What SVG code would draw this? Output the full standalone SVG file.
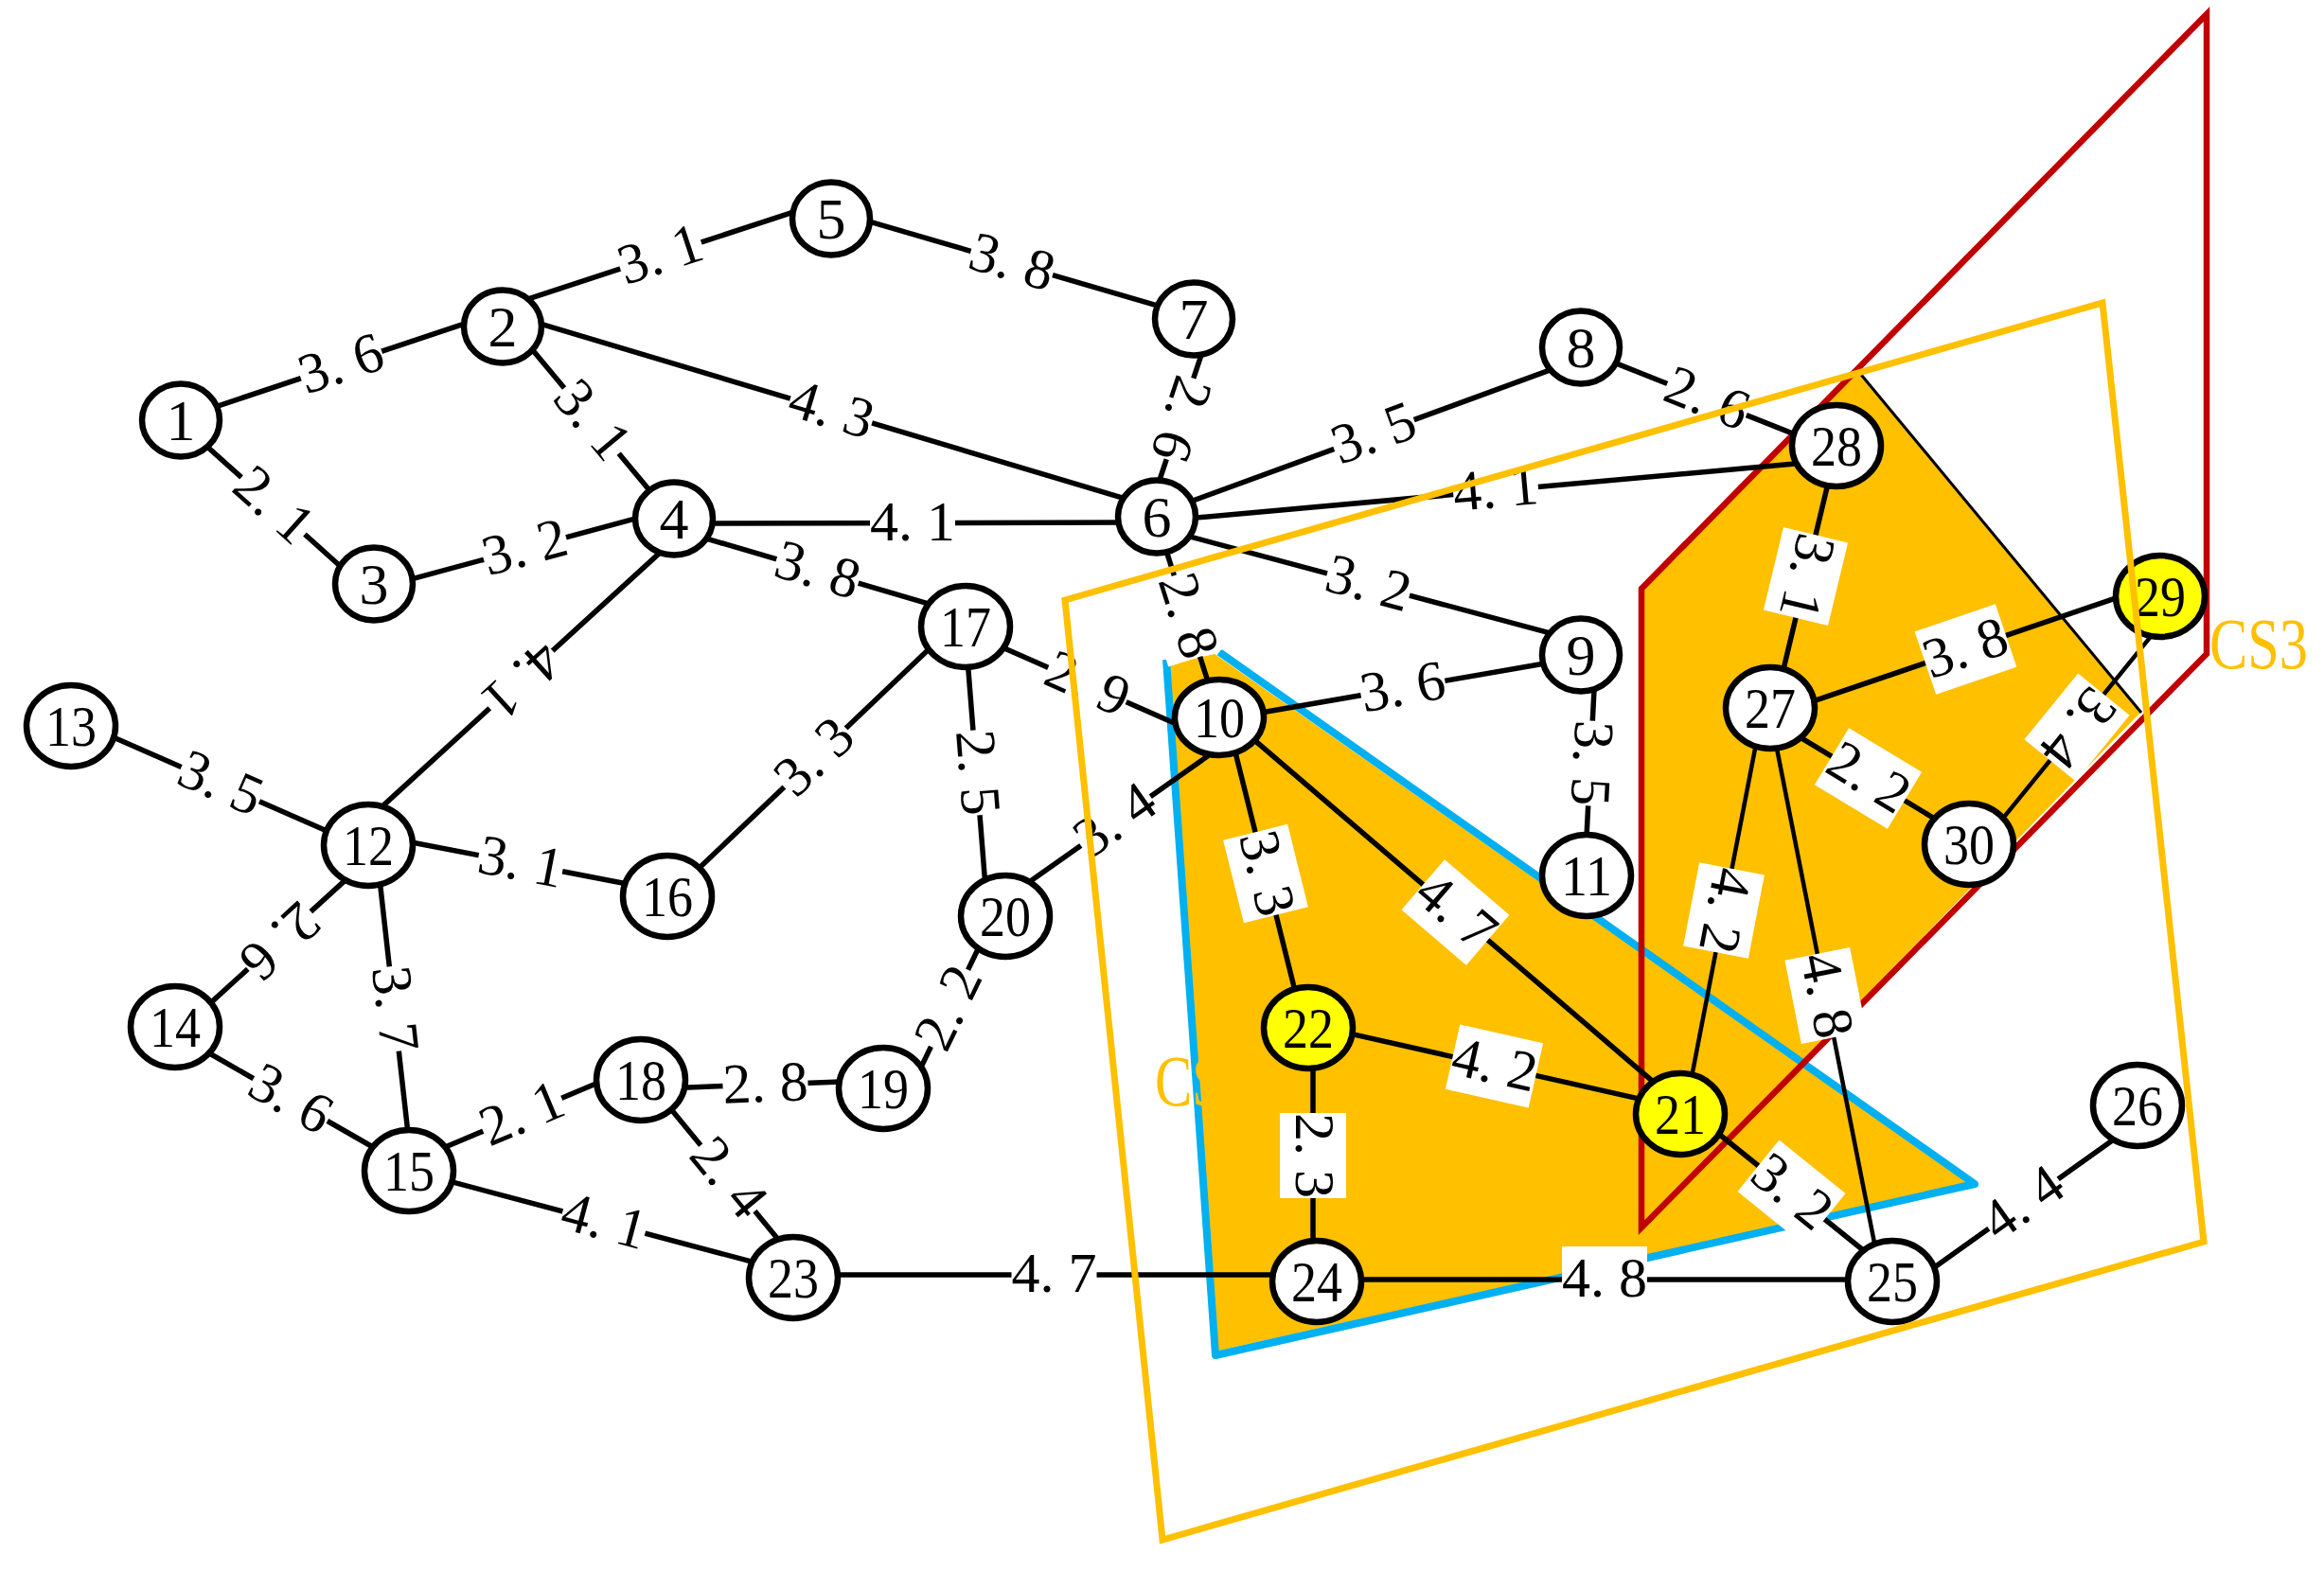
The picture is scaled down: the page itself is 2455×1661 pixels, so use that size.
<svg xmlns="http://www.w3.org/2000/svg" width="2455" height="1661" viewBox="0 0 2455 1661">
<style>
.fill{fill:#FFC000;stroke:none}
.e line{stroke:#000;stroke-width:5.5}
.e line.t{stroke-width:4.5}
.lb rect{fill:#fff}
.lb text{font-family:"Liberation Serif",serif;font-size:60px;text-anchor:middle;fill:#000}
.n ellipse{fill:#fff;stroke:#000;stroke-width:6.5}
.n.y ellipse{fill:#FFFF00}
.n text{font-family:"Liberation Serif",serif;font-size:62px;text-anchor:middle;fill:#000}
.cs{font-family:"Liberation Serif",serif;font-size:76px;fill:#FFC000}
</style>
<rect width="2455" height="1661" fill="#fff"/>
<g id="regions">
<polygon class="fill" points="1236,702 1283,1428 2080,1250 1283,691"/>
<polygon class="fill" points="1734,622 1962,390 2262,752 1734,1297"/>
<line x1="1962" y1="391" x2="2262" y2="753" stroke="#000" stroke-width="3"/>
<polyline points="1232,697 1284,1432 2086,1251 1288,689" fill="none" stroke="#00B0F0" stroke-width="8" stroke-linejoin="round"/>
<text class="cs" x="1220" y="1168" textLength="72" lengthAdjust="spacingAndGlyphs">CS</text>
<text class="cs" x="2334" y="706" textLength="104" lengthAdjust="spacingAndGlyphs">CS3</text>
<polygon points="1734,622 2331,15 2331,691 1734,1297" fill="none" stroke="#C00000" stroke-width="6.5"/>
</g>
<g id="edges" class="e">
<line x1="221.6" y1="431.8" x2="499.4" y2="339.2"/>
<line x1="211.1" y1="465" x2="365.9" y2="604"/>
<line x1="549.6" y1="318.7" x2="846.4" y2="221.3"/>
<line x1="555.9" y1="361.8" x2="693.7" y2="527.2"/>
<line x1="562.5" y1="339.6" x2="1193.5" y2="528.4"/>
<line x1="426.4" y1="614.1" x2="682.6" y2="544.9"/>
<line x1="740" y1="553" x2="1188" y2="552"/>
<line x1="734.5" y1="565.6" x2="992.5" y2="641.4"/>
<line x1="704.9" y1="576.9" x2="396.1" y2="859.1"/>
<line x1="906.5" y1="230.6" x2="1231" y2="325.4"/>
<line x1="1271.8" y1="366.6" x2="1221.2" y2="518.4"/>
<line x1="1251.7" y1="532.1" x2="1651.3" y2="385.9"/>
<line x1="1253" y1="548" x2="1907" y2="489"/>
<line x1="1245.4" y1="563.9" x2="1645.6" y2="671.1"/>
<line x1="1229.4" y1="573.6" x2="1278.6" y2="728.4"/>
<line x1="1048" y1="679.2" x2="1249" y2="767.8"/>
<line x1="734.3" y1="921.3" x2="987.7" y2="679.7"/>
<line x1="1022" y1="696" x2="1041" y2="937"/>
<line x1="1326.2" y1="754" x2="1637.8" y2="700"/>
<line x1="1684.6" y1="717" x2="1675.4" y2="896"/>
<line x1="1077.2" y1="938.9" x2="1279.8" y2="796.1"/>
<line x1="1304.1" y1="791.4" x2="1369.9" y2="1054.6"/>
<line x1="1322.9" y1="780.2" x2="1752.1" y2="1147.8"/>
<line x1="110" y1="774.7" x2="355.5" y2="882.5"/>
<line x1="428.2" y1="888.7" x2="671.8" y2="935.8"/>
<line x1="372.6" y1="922.9" x2="217.6" y2="1064.1"/>
<line x1="400.7" y1="926.1" x2="432" y2="1206.5"/>
<line x1="212.6" y1="1108" x2="400.9" y2="1216"/>
<line x1="463.9" y1="1214.7" x2="639.6" y2="1140.8"/>
<line x1="470.1" y1="1246.9" x2="805.6" y2="1336.1"/>
<line x1="715" y1="1149.4" x2="902" y2="1142.6"/>
<line x1="707" y1="1169.7" x2="830.6" y2="1320"/>
<line x1="967.8" y1="1138.4" x2="1038.2" y2="992.2"/>
<line x1="870" y1="1347" x2="1354" y2="1347"/>
<line x1="1418.3" y1="1090.4" x2="1738.7" y2="1162.6"/>
<line x1="1387" y1="1120" x2="1387" y2="1322"/>
<line x1="1428" y1="1352" x2="1962" y2="1352"/>
<line x1="1808.7" y1="1192.5" x2="1976.3" y2="1327.5"/>
<line class="t" x1="1856.3" y1="779.2" x2="1785.7" y2="1144.8"/>
<line x1="1932.8" y1="503.3" x2="1882.2" y2="714.7"/>
<line x1="1906.6" y1="743.9" x2="2246.4" y2="628.1"/>
<line x1="1894.7" y1="774.8" x2="2052.3" y2="870.2"/>
<line class="t" x1="1874.7" y1="779.2" x2="1982.3" y2="1324.8"/>
<line class="t" x1="2277.6" y1="665.7" x2="2110.4" y2="871.3"/>
<line x1="2035.2" y1="1345" x2="2239.8" y2="1199"/>
<line x1="1698.9" y1="380.6" x2="1907.1" y2="463.4"/>
</g>
<g id="edge-labels" class="lb">
<g transform="translate(360.5,385.5) rotate(-18.4)"><rect x="-45" y="-35" width="90" height="70"/><text y="18">3. 6</text></g>
<g transform="translate(288.5,534.5) rotate(41.9)"><rect x="-45" y="-35" width="90" height="70"/><text y="18">2. 1</text></g>
<g transform="translate(698,270) rotate(-18.2)"><rect x="-45" y="-35" width="90" height="70"/><text y="18">3. 1</text></g>
<g transform="translate(625,444.5) rotate(50.2)"><rect x="-45" y="-35" width="90" height="70"/><text y="18">3. 1</text></g>
<g transform="translate(878,434) rotate(16.7)"><rect x="-45" y="-35" width="90" height="70"/><text y="18">4. 3</text></g>
<g transform="translate(554.5,579.5) rotate(-15.1)"><rect x="-45" y="-35" width="90" height="70"/><text y="18">3. 2</text></g>
<g transform="translate(964,552.5)"><rect x="-45" y="-35" width="90" height="70"/><text y="18">4. 1</text></g>
<g transform="translate(863.5,603.5) rotate(16.4)"><rect x="-45" y="-35" width="90" height="70"/><text y="18">3. 8</text></g>
<g transform="translate(550.5,718) rotate(137.6)"><rect x="-45" y="-35" width="90" height="70"/><text y="18">4. 1</text></g>
<g transform="translate(1068.8,278) rotate(16.3)"><rect x="-45" y="-35" width="90" height="70"/><text y="18">3. 8</text></g>
<g transform="translate(1246.5,442.5) rotate(108.4)"><rect x="-45" y="-35" width="90" height="70"/><text y="18">2. 6</text></g>
<g transform="translate(1451.5,459) rotate(-20.1)"><rect x="-45" y="-35" width="90" height="70"/><text y="18">3. 5</text></g>
<g transform="translate(1580,518) rotate(-5.1)"><rect x="-45" y="-35" width="90" height="70"/><text y="18">4. 1</text></g>
<g transform="translate(1445.5,617.5) rotate(15)"><rect x="-45" y="-35" width="90" height="70"/><text y="18">3. 2</text></g>
<g transform="translate(1254,651) rotate(72.4)"><rect x="-45" y="-35" width="90" height="70"/><text y="18">2. 8</text></g>
<g transform="translate(1148.5,723.5) rotate(23.8)"><rect x="-45" y="-35" width="90" height="70"/><text y="18">2. 9</text></g>
<g transform="translate(861,800.5) rotate(-43.6)"><rect x="-45" y="-35" width="90" height="70"/><text y="18">3. 3</text></g>
<g transform="translate(1031.5,816.5) rotate(85.5)"><rect x="-45" y="-35" width="90" height="70"/><text y="18">2. 5</text></g>
<g transform="translate(1482,727) rotate(-9.8)"><rect x="-45" y="-35" width="90" height="70"/><text y="18">3. 6</text></g>
<g transform="translate(1680,806.5) rotate(93)"><rect x="-45" y="-35" width="90" height="70"/><text y="18">3. 5</text></g>
<g transform="translate(1178.5,867.5) rotate(-35.2)"><rect x="-45" y="-35" width="90" height="70"/><text y="18">3. 4</text></g>
<g transform="translate(1337,923) rotate(76)"><rect x="-45" y="-35" width="90" height="70"/><text y="18">3. 3</text></g>
<g transform="translate(1537.5,964) rotate(40.6)"><rect x="-45" y="-35" width="90" height="70"/><text y="18">4. 7</text></g>
<g transform="translate(232.8,828.6) rotate(23.7)"><rect x="-45" y="-35" width="90" height="70"/><text y="18">3. 5</text></g>
<g transform="translate(550,912) rotate(10.9)"><rect x="-45" y="-35" width="90" height="70"/><text y="18">3. 1</text></g>
<g transform="translate(295,993.5) rotate(137.6)"><rect x="-45" y="-35" width="90" height="70"/><text y="18">2. 6</text></g>
<g transform="translate(416,1066) rotate(83.6)"><rect x="-45" y="-35" width="90" height="70"/><text y="18">3. 7</text></g>
<g transform="translate(306.8,1162) rotate(29.8)"><rect x="-45" y="-35" width="90" height="70"/><text y="18">3. 6</text></g>
<g transform="translate(551.8,1177.8) rotate(-22.8)"><rect x="-45" y="-35" width="90" height="70"/><text y="18">2. 1</text></g>
<g transform="translate(637.9,1291.5) rotate(14.9)"><rect x="-45" y="-35" width="90" height="70"/><text y="18">4. 1</text></g>
<g transform="translate(808.5,1146) rotate(-2.1)"><rect x="-45" y="-35" width="90" height="70"/><text y="18">2. 8</text></g>
<g transform="translate(768.8,1244.9) rotate(50.5)"><rect x="-45" y="-35" width="90" height="70"/><text y="18">2. 4</text></g>
<g transform="translate(1003,1065.3) rotate(-64.3)"><rect x="-45" y="-35" width="90" height="70"/><text y="18">2. 2</text></g>
<g transform="translate(1113.5,1347)"><rect x="-45" y="-35" width="90" height="70"/><text y="18">4. 7</text></g>
<g transform="translate(1578.5,1126.5) rotate(12.7)"><rect x="-45" y="-35" width="90" height="70"/><text y="18">4. 2</text></g>
<g transform="translate(1387,1221) rotate(90)"><rect x="-45" y="-35" width="90" height="70"/><text y="18">2. 3</text></g>
<g transform="translate(1695,1352)"><rect x="-45" y="-35" width="90" height="70"/><text y="18">4. 8</text></g>
<g transform="translate(1892.5,1260) rotate(38.9)"><rect x="-45" y="-35" width="90" height="70"/><text y="18">3. 2</text></g>
<g transform="translate(1821,962) rotate(100.9)"><rect x="-45" y="-35" width="90" height="70"/><text y="18">4. 2</text></g>
<g transform="translate(1907.5,609) rotate(103.5)"><rect x="-45" y="-35" width="90" height="70"/><text y="18">3. 1</text></g>
<g transform="translate(2076.5,686) rotate(-18.8)"><rect x="-45" y="-35" width="90" height="70"/><text y="18">3. 8</text></g>
<g transform="translate(1973.5,822.5) rotate(31.2)"><rect x="-45" y="-35" width="90" height="70"/><text y="18">2. 2</text></g>
<g transform="translate(1928.5,1052) rotate(78.8)"><rect x="-45" y="-35" width="90" height="70"/><text y="18">4. 8</text></g>
<g transform="translate(2194,768.5) rotate(129.1)"><rect x="-45" y="-35" width="90" height="70"/><text y="18">3. 4</text></g>
<g transform="translate(2137.5,1272) rotate(-35.5)"><rect x="-45" y="-35" width="90" height="70"/><text y="18">4. 4</text></g>
<g transform="translate(1803,422) rotate(21.7)"><rect x="-45" y="-35" width="90" height="70"/><text y="18">2. 6</text></g>
</g>
<g id="nodes">
<g id="n1" class="n"><ellipse cx="191" cy="444" rx="41" ry="38.5"/><text x="191" y="465">1</text></g>
<g id="n2" class="n"><ellipse cx="531" cy="345" rx="41" ry="38.5"/><text x="531" y="366">2</text></g>
<g id="n3" class="n"><ellipse cx="395" cy="617" rx="41" ry="38.5"/><text x="395" y="638">3</text></g>
<g id="n4" class="n"><ellipse cx="712" cy="548" rx="41" ry="38.5"/><text x="712" y="569">4</text></g>
<g id="n5" class="n"><ellipse cx="878" cy="231" rx="41" ry="38.5"/><text x="878" y="252">5</text></g>
<g id="n6" class="n"><ellipse cx="1222" cy="546" rx="41" ry="38.5"/><text x="1222" y="567">6</text></g>
<g id="n7" class="n"><ellipse cx="1261" cy="337" rx="41" ry="38.5"/><text x="1261" y="358">7</text></g>
<g id="n8" class="n"><ellipse cx="1670" cy="367" rx="41" ry="38.5"/><text x="1670" y="388">8</text></g>
<g id="n9" class="n"><ellipse cx="1670" cy="692" rx="41" ry="38.5"/><text x="1670" y="713">9</text></g>
<g id="n10" class="n"><ellipse cx="1288" cy="758" rx="47" ry="40"/><text x="1288" y="779" textLength="54" lengthAdjust="spacingAndGlyphs">10</text></g>
<g id="n11" class="n"><ellipse cx="1676" cy="925" rx="47" ry="43"/><text x="1676" y="946" textLength="54" lengthAdjust="spacingAndGlyphs">11</text></g>
<g id="n12" class="n"><ellipse cx="389" cy="893" rx="47" ry="43"/><text x="389" y="914" textLength="54" lengthAdjust="spacingAndGlyphs">12</text></g>
<g id="n13" class="n"><ellipse cx="75" cy="767" rx="47" ry="43"/><text x="75" y="788" textLength="54" lengthAdjust="spacingAndGlyphs">13</text></g>
<g id="n14" class="n"><ellipse cx="185" cy="1085" rx="47" ry="43"/><text x="185" y="1106" textLength="54" lengthAdjust="spacingAndGlyphs">14</text></g>
<g id="n15" class="n"><ellipse cx="432" cy="1237" rx="47" ry="43"/><text x="432" y="1258" textLength="54" lengthAdjust="spacingAndGlyphs">15</text></g>
<g id="n16" class="n"><ellipse cx="705" cy="947" rx="47" ry="43"/><text x="705" y="968" textLength="54" lengthAdjust="spacingAndGlyphs">16</text></g>
<g id="n17" class="n"><ellipse cx="1020" cy="662" rx="47" ry="43"/><text x="1020" y="683" textLength="54" lengthAdjust="spacingAndGlyphs">17</text></g>
<g id="n18" class="n"><ellipse cx="677" cy="1141" rx="47" ry="43"/><text x="677" y="1162" textLength="54" lengthAdjust="spacingAndGlyphs">18</text></g>
<g id="n19" class="n"><ellipse cx="933" cy="1150" rx="47" ry="43"/><text x="933" y="1171" textLength="54" lengthAdjust="spacingAndGlyphs">19</text></g>
<g id="n20" class="n"><ellipse cx="1062" cy="968" rx="47" ry="43"/><text x="1062" y="989" textLength="54" lengthAdjust="spacingAndGlyphs">20</text></g>
<g id="n21" class="n y"><ellipse cx="1775" cy="1177" rx="47" ry="43"/><text x="1775" y="1198" textLength="54" lengthAdjust="spacingAndGlyphs">21</text></g>
<g id="n22" class="n y"><ellipse cx="1382" cy="1086" rx="47" ry="43"/><text x="1382" y="1107" textLength="54" lengthAdjust="spacingAndGlyphs">22</text></g>
<g id="n23" class="n"><ellipse cx="838" cy="1350" rx="47" ry="43"/><text x="838" y="1371" textLength="54" lengthAdjust="spacingAndGlyphs">23</text></g>
<g id="n24" class="n"><ellipse cx="1391" cy="1354" rx="47" ry="43"/><text x="1391" y="1375" textLength="54" lengthAdjust="spacingAndGlyphs">24</text></g>
<g id="n25" class="n"><ellipse cx="1999" cy="1354" rx="47" ry="43"/><text x="1999" y="1375" textLength="54" lengthAdjust="spacingAndGlyphs">25</text></g>
<g id="n26" class="n"><ellipse cx="2258" cy="1168" rx="47" ry="43"/><text x="2258" y="1189" textLength="54" lengthAdjust="spacingAndGlyphs">26</text></g>
<g id="n27" class="n"><ellipse cx="1870" cy="748" rx="47" ry="43"/><text x="1870" y="769" textLength="54" lengthAdjust="spacingAndGlyphs">27</text></g>
<g id="n28" class="n"><ellipse cx="1940" cy="471" rx="47" ry="43"/><text x="1940" y="492" textLength="54" lengthAdjust="spacingAndGlyphs">28</text></g>
<g id="n29" class="n y"><ellipse cx="2282" cy="630" rx="47" ry="43"/><text x="2282" y="651" textLength="54" lengthAdjust="spacingAndGlyphs">29</text></g>
<g id="n30" class="n"><ellipse cx="2080" cy="892" rx="47" ry="43"/><text x="2080" y="913" textLength="54" lengthAdjust="spacingAndGlyphs">30</text></g>
</g>
<g id="outline">
<polygon points="1125,634 2221,320 2328,1312 1228,1627" fill="none" stroke="#FFC000" stroke-width="7"/>
</g>
</svg>
